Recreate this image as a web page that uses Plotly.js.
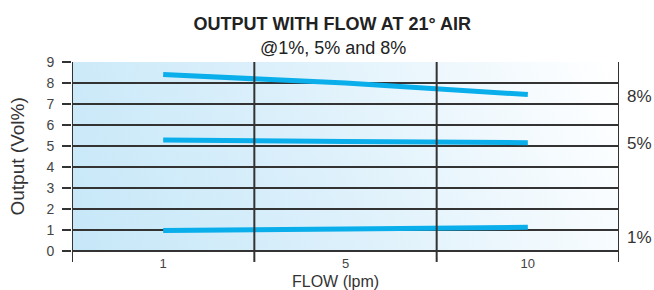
<!DOCTYPE html>
<html>
<head>
<meta charset="utf-8">
<script src="https://cdn.plot.ly/plotly-3.0.1.min.js"></script>
<style>html,body{margin:0;padding:0;background:#fff;}#chart{width:654px;height:290px;}</style>
</head>
<body>
<div id="chart"></div>
<script>
// Data
const flowLabels = ['1', '5', '10'];
const output8 = [8.4, 8.0, 7.45];
const output5 = [5.29, 5.22, 5.16];
const output1 = [0.98, 1.05, 1.13];
const seriesNames = ['8%', '5%', '1%'];
const labelY = [7.35, 5.14, 0.62];
const yTicks = [0, 1, 2, 3, 4, 5, 6, 7, 8, 9];

// gradient background
const cv = document.createElement('canvas');
cv.width = 547; cv.height = 189;
const cx = cv.getContext('2d');
const g = cx.createLinearGradient(0, 189, 520, -40);
g.addColorStop(0, '#c6e7f8');
g.addColorStop(0.45, '#dcf0fb');
g.addColorStop(1, '#ffffff');
cx.fillStyle = g;
cx.fillRect(0, 0, 547, 189);
const bgURL = cv.toDataURL('image/png');

const lineColor = '#0aaeea';
const gridC = '#333333';
const font = 'Liberation Sans, Arial, Helvetica, sans-serif';

const traces = [output8, output5, output1].map((vals, i) => ({
  x: flowLabels, y: vals, type: 'scatter', mode: 'lines', name: seriesNames[i],
  line: {color: lineColor, width: 5, shape: 'spline', smoothing: 0.6},
  hoverinfo: 'skip'
}));

const vlines = [-0.5, 0.5, 1.5, 2.5].map(xv => ({
  type: 'line', xref: 'x', yref: 'paper', x0: xv, x1: xv, y0: -0.058, y1: 1,
  line: {color: gridC, width: 2}, layer: 'above'
}));

const annotations = seriesNames.map((n, i) => ({
  text: n, xref: 'paper', yref: 'y', x: 1, y: labelY[i], xanchor: 'left', yanchor: 'middle',
  xshift: 6, showarrow: false, font: {family: font, size: 17, color: '#333'}
}));
annotations.push({
  text: '@1%, 5% and 8%', xref: 'paper', yref: 'paper', x: 0.5, y: 1, yanchor: 'middle',
  xshift: -13, yshift: 14, showarrow: false, font: {family: font, size: 18, color: '#222'}
});
annotations.push({
  text: 'FLOW (lpm)', xref: 'paper', yref: 'paper', x: 0.5, y: 0, yanchor: 'middle',
  xshift: -10, yshift: -30, showarrow: false, font: {family: font, size: 16, color: '#333'}
});
annotations.push({
  text: 'Output (Vol%)', xref: 'paper', yref: 'paper', x: 0, y: 0.5, xanchor: 'center', yanchor: 'middle',
  xshift: -55, showarrow: false, textangle: -90, font: {family: font, size: 19, color: '#333'}
});

const layout = {
  width: 654, height: 290,
  margin: {l: 72, r: 35, t: 62, b: 39},
  paper_bgcolor: '#ffffff', plot_bgcolor: 'rgba(0,0,0,0)',
  showlegend: false,
  title: {text: '<b>OUTPUT WITH FLOW AT 21° AIR</b>', x: 0.508, xanchor: 'center', y: 0.92, yanchor: 'middle',
          font: {family: font, size: 18, color: '#222'}},
  xaxis: {type: 'category', range: [-0.5, 2.5], showgrid: false, zeroline: false, showline: false,
          ticks: '', ticklabelstandoff: 3, tickfont: {family: font, size: 13, color: '#444'}},
  yaxis: {range: [0, 9], tickvals: yTicks, showgrid: true, gridcolor: gridC, gridwidth: 2,
          zeroline: true, zerolinecolor: gridC, zerolinewidth: 2, showline: false,
          ticks: 'outside', ticklen: 9, tickwidth: 2, tickcolor: gridC, ticklabelstandoff: 5,
          tickfont: {family: font, size: 14, color: '#444'}},
  shapes: vlines,
  annotations: annotations,
  images: [{source: bgURL, xref: 'paper', yref: 'paper', x: 0, y: 1, sizex: 1, sizey: 1,
            sizing: 'stretch', xanchor: 'left', yanchor: 'top', layer: 'below'}]
};

Plotly.newPlot('chart', traces, layout, {displayModeBar: false, staticPlot: true});
</script>
</body>
</html>
